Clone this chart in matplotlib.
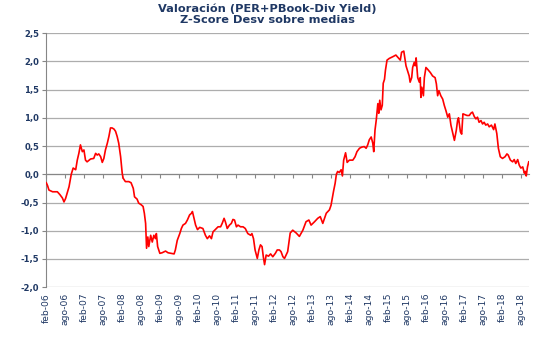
import numpy as np
import matplotlib
matplotlib.use('Agg')
import matplotlib.pyplot as plt
import matplotlib.transforms as mtransforms

# months since feb-06 and z-score
months = [0.0, 0.4, 0.85, 2.0, 3.5, 4.3, 5.1, 5.6, 6.1, 7.2, 7.9, 8.5, 9.3, 9.8, 10.3,
          10.8, 11.4, 11.9, 12.4, 12.9, 14.0, 15.0, 15.6, 16.1, 16.6, 17.2, 17.7, 18.2,
          18.7, 19.3, 19.8, 20.3, 20.8, 21.4, 21.9, 22.4, 22.9, 23.5, 24.0, 24.3, 25.0,
          26.1, 26.8, 27.5, 27.9, 28.7, 29.2, 30.0, 30.6, 31.0, 31.4, 31.7, 32.1, 32.4,
          33.0, 33.5, 34.0, 34.5, 34.8, 35.2, 35.9, 36.6, 37.7, 38.5, 39.5, 40.4, 40.8,
          41.4, 42.2, 42.7, 43.2, 44.0, 44.6, 45.3, 45.9, 46.2, 46.7, 47.2, 47.8, 48.5,
          49.5, 50.3, 50.9, 51.6, 52.2, 52.7, 53.4, 54.3, 55.1, 55.6, 56.2, 56.6, 57.2,
          57.9, 58.5, 59.0, 59.5, 60.1, 60.6, 61.4, 62.2, 62.9, 63.7, 64.6, 65.0, 65.5,
          66.0, 66.7, 67.2, 67.7, 68.2, 68.6, 69.0, 69.5, 70.25, 70.9, 71.6, 72.4, 73.0,
          73.7, 74.2, 74.8, 75.3, 76.3, 77.1, 77.9, 79.0, 80.0, 81.1, 82.1, 83.0, 83.7,
          84.8, 85.8, 86.6, 87.4, 88.5, 89.5, 90.0, 90.8, 91.3, 91.7, 92.1, 92.6, 93.2,
          93.6, 94.0, 94.6, 95.1, 95.8, 96.9, 97.6, 98.2, 99.0, 99.7, 100.5, 101.1, 101.6,
          102.1, 102.7, 103.2, 103.5, 103.9, 104.3, 104.8, 105.1, 105.4, 105.8, 106.2,
          106.5, 106.9, 107.2, 107.7, 108.4, 109.5, 110.5, 111.3, 111.9, 112.3, 113.0,
          113.7, 114.2, 114.7, 115.0, 115.5, 115.8, 116.3, 116.6, 116.9, 117.4, 117.9,
          118.2, 118.4, 118.7, 119.2, 119.5, 120.0, 120.5, 121.4, 122.1, 122.9, 123.3,
          123.7, 124.1, 124.7, 125.3, 125.8, 126.3, 126.9, 127.4, 127.9, 128.5, 129.0,
          129.6, 130.0, 130.3, 130.9, 131.3, 131.7, 132.1, 133.0, 133.7, 134.2, 134.7,
          135.3, 135.8, 136.3, 136.8, 137.4, 137.9, 138.4, 138.9, 139.5, 140.0, 140.7,
          141.4, 141.8, 142.4, 142.9, 143.5, 144.2, 145.0, 145.6, 146.0, 146.7, 147.4,
          147.9, 148.4, 149.0, 149.5, 150.0, 150.6, 151.1, 151.4, 151.7, 152.1, 152.5]
zscore = [-0.15, -0.20, -0.28, -0.31, -0.31, -0.36, -0.42, -0.49, -0.43, -0.22, 0.0, 0.11,
          0.08, 0.25, 0.37, 0.52, 0.40, 0.43, 0.25, 0.22, 0.27, 0.28, 0.37, 0.34, 0.36,
          0.31, 0.21, 0.28, 0.43, 0.55, 0.67, 0.82, 0.82, 0.80, 0.76, 0.67, 0.55, 0.31,
          0.02, -0.07, -0.13, -0.13, -0.15, -0.25, -0.40, -0.44, -0.51, -0.54, -0.57,
          -0.69, -0.87, -1.31, -1.11, -1.28, -1.08, -1.20, -1.08, -1.14, -1.05, -1.28,
          -1.40, -1.39, -1.36, -1.39, -1.40, -1.41, -1.34, -1.17, -1.05, -0.96, -0.90,
          -0.87, -0.81, -0.72, -0.69, -0.66, -0.78, -0.90, -0.98, -0.94, -0.96, -1.08,
          -1.14, -1.09, -1.14, -1.02, -0.98, -0.93, -0.93, -0.87, -0.78, -0.84, -0.96,
          -0.90, -0.87, -0.80, -0.81, -0.93, -0.90, -0.93, -0.93, -0.96, -1.05, -1.08,
          -1.05, -1.14, -1.34, -1.49, -1.34, -1.25, -1.28, -1.46, -1.60, -1.43, -1.45,
          -1.41, -1.46, -1.40, -1.34, -1.34, -1.37, -1.46, -1.49, -1.37, -1.04, -0.99,
          -1.04, -1.10, -0.99, -0.84, -0.81, -0.90, -0.84, -0.78, -0.75, -0.87, -0.69,
          -0.63, -0.55, -0.30, -0.16, 0.0, 0.05, 0.03, 0.08, -0.03, 0.25, 0.38, 0.21,
          0.25, 0.25, 0.31, 0.40, 0.46, 0.48, 0.49, 0.46, 0.52, 0.61, 0.66, 0.55, 0.40,
          0.78, 0.96, 1.25, 1.08, 1.31, 1.14, 1.22, 1.61, 1.68, 1.84, 2.02, 2.05, 2.08,
          2.11, 2.06, 2.02, 2.16, 2.18, 1.92, 1.83, 1.74, 1.63, 1.71, 1.89, 1.98, 1.92,
          2.06, 1.71, 1.63, 1.71, 1.36, 1.54, 1.39, 1.71, 1.89, 1.86, 1.80, 1.74, 1.71,
          1.60, 1.39, 1.48, 1.39, 1.33, 1.22, 1.13, 1.01, 1.07, 0.87, 0.72, 0.60, 0.78,
          0.95, 1.00, 0.75, 0.71, 1.07, 1.06, 1.04, 1.04, 1.08, 1.10, 1.02, 0.98, 1.01,
          0.92, 0.95, 0.89, 0.92, 0.87, 0.89, 0.84, 0.87, 0.79, 0.89, 0.72, 0.46, 0.31,
          0.28, 0.31, 0.36, 0.34, 0.25, 0.22, 0.26, 0.19, 0.26, 0.16, 0.11, 0.13, 0.02,
          0.05, -0.03, 0.13, 0.22]

tick_months = list(range(0, 151, 6))
tick_labels = []
for i, m in enumerate(tick_months):
    yr = 6 + m // 12
    tick_labels.append(('feb' if i % 2 == 0 else 'ago') + '-%02d' % yr)

navy = '#1F3864'

fig = plt.figure(figsize=(5.38, 3.44), dpi=100)
ax = fig.add_axes([0.086, 0.165, 0.898, 0.739])

ax.plot(months, zscore, color='#FF0000', lw=1.2, zorder=3)

ax.set_xlim(0, 152.7)
ax.set_ylim(-2.0, 2.5)
yt = np.arange(-2.0, 2.51, 0.5)
ax.set_yticks(yt)
ax.set_yticklabels([('%.1f' % v).replace('.', ',') for v in yt],
                   fontsize=6, fontweight='bold', color=navy)
ax.grid(axis='y', color='#ADADAD', lw=0.9)
ax.set_axisbelow(True)

for s in ['top', 'right']:
    ax.spines[s].set_visible(False)
ax.spines['left'].set_color('#868686')
ax.spines['bottom'].set_position(('data', 0))
ax.spines['bottom'].set_color('#868686')
ax.tick_params(axis='y', length=3, color='#868686', pad=2)
ax.set_xticks(tick_months)
ax.tick_params(axis='x', length=3, color='#868686', labelbottom=False)

trans = mtransforms.blended_transform_factory(ax.transData, ax.transAxes)
for m, lab in zip(tick_months, tick_labels):
    ax.text(m, -0.022, lab, transform=trans, rotation=90, ha='center', va='top',
            fontsize=6.6, color=navy)

fig.text(0.497, 0.99, 'Valoración (PER+PBook-Div Yield)\nZ-Score Desv sobre medias',
         ha='center', va='top', fontsize=8.2, fontweight='bold', color=navy,
         linespacing=1.1)

fig.savefig('out.png', dpi=100)
